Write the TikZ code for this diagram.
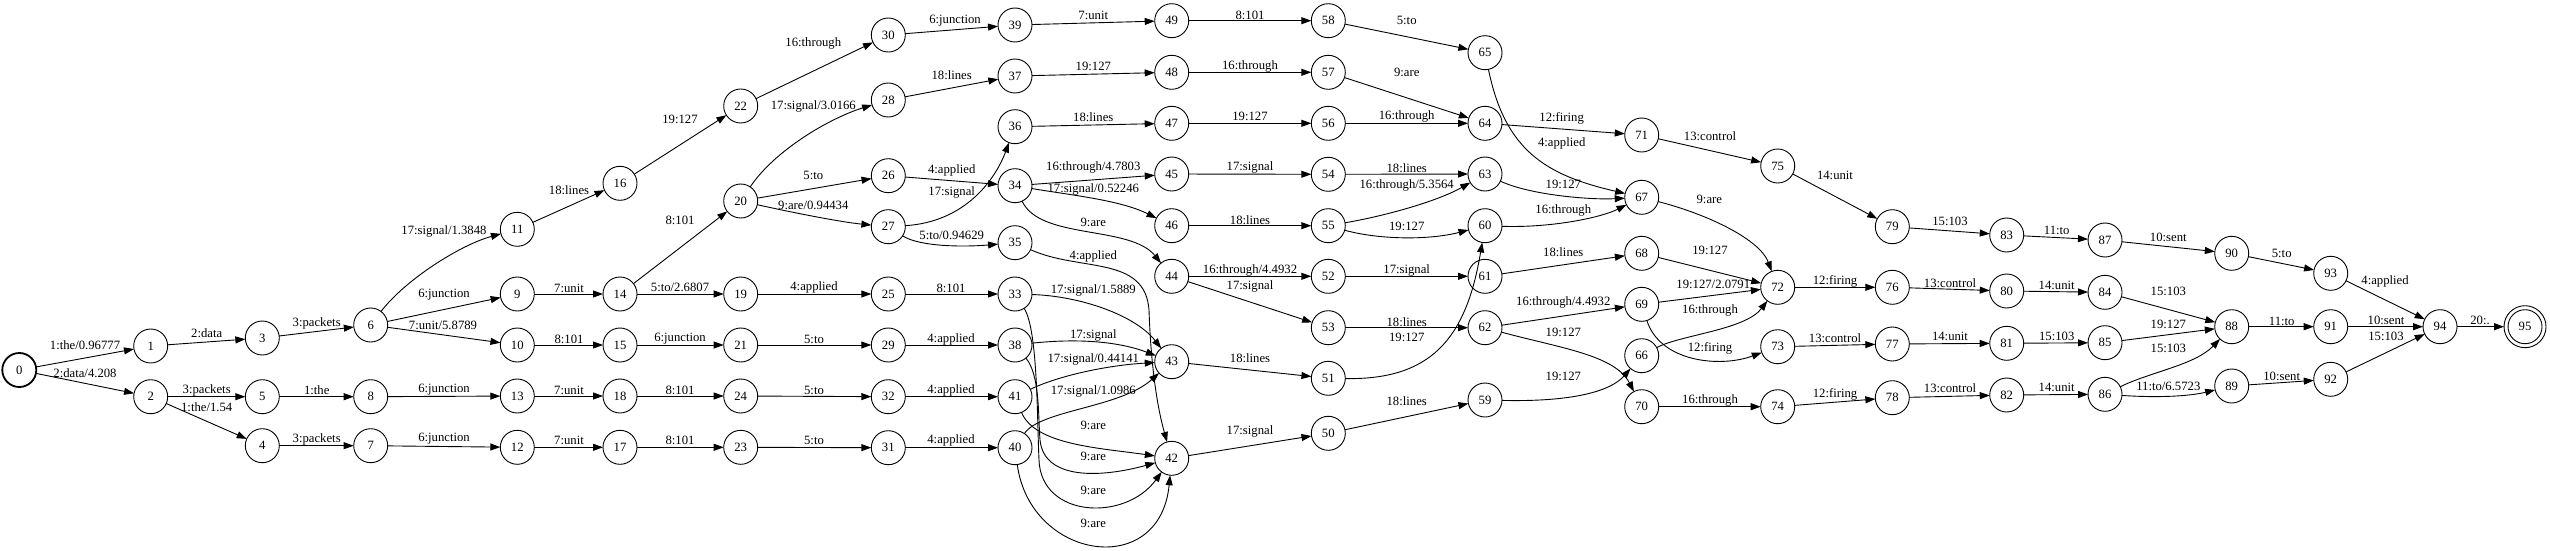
\documentclass[tikz,border=0pt]{standalone}
\usepackage{fontspec}
\setmainfont{Liberation Serif}
\usetikzlibrary{arrows.meta}

\begin{document}
\begin{tikzpicture}[x=1pt,y=1pt,yscale=-1,
  state/.style={circle,draw,line width=0.9pt,minimum size=34pt,inner sep=0pt,outer sep=0pt,font=\fontsize{12.7}{14}\selectfont},
  initstate/.style={state,line width=1.8pt},
  finalstate/.style={state,minimum size=42pt},
  trans/.style={draw,line width=0.9pt,-{Triangle[length=10pt,width=7pt]}},
  lbl/.style={inner sep=0pt,font=\fontsize{12.7}{14}\selectfont}]
\useasboundingbox (0,0) rectangle (2550,551);

% States
\node[initstate] (n0) at (19.3,370) {0};
\node[state] (n1) at (150.7,346) {1};
\node[state] (n2) at (150.7,396.7) {2};
\node[state] (n3) at (262.3,338) {3};
\node[state] (n4) at (262.3,445.7) {4};
\node[state] (n5) at (262.3,396.7) {5};
\node[state] (n6) at (370.7,325) {6};
\node[state] (n7) at (370.7,445.7) {7};
\node[state] (n8) at (370.7,396.7) {8};
\node[state] (n9) at (517.3,294) {9};
\node[state] (n10) at (517.3,345) {10};
\node[state] (n11) at (517.3,229.3) {11};
\node[state] (n12) at (517.3,447.3) {12};
\node[state] (n13) at (517.3,396) {13};
\node[state] (n14) at (620,294) {14};
\node[state] (n15) at (620,345) {15};
\node[state] (n16) at (620,183.3) {16};
\node[state] (n17) at (620,447.3) {17};
\node[state] (n18) at (620,396) {18};
\node[state] (n19) at (740.7,294) {19};
\node[state] (n20) at (740.7,201) {20};
\node[state] (n21) at (740.7,345) {21};
\node[state] (n22) at (740.7,106) {22};
\node[state] (n23) at (740.7,447.3) {23};
\node[state] (n24) at (740.7,396) {24};
\node[state] (n25) at (888.3,294) {25};
\node[state] (n26) at (888.3,175.7) {26};
\node[state] (n27) at (888.3,226.7) {27};
\node[state] (n28) at (888.3,100) {28};
\node[state] (n29) at (888.3,345) {29};
\node[state] (n30) at (888.3,35) {30};
\node[state] (n31) at (888.3,447.7) {31};
\node[state] (n32) at (888.3,396.7) {32};
\node[state] (n33) at (1015,294) {33};
\node[state] (n34) at (1015,185.7) {34};
\node[state] (n35) at (1015,242.7) {35};
\node[state] (n36) at (1015,126.7) {36};
\node[state] (n37) at (1015,76) {37};
\node[state] (n38) at (1015,345) {38};
\node[state] (n39) at (1015,25) {39};
\node[state] (n40) at (1015,447.7) {40};
\node[state] (n41) at (1015,396.7) {41};
\node[state] (n42) at (1171.7,458.3) {42};
\node[state] (n43) at (1171.7,361.7) {43};
\node[state] (n44) at (1171.7,276.3) {44};
\node[state] (n45) at (1171.7,174) {45};
\node[state] (n46) at (1171.7,225.7) {46};
\node[state] (n47) at (1171.7,123.3) {47};
\node[state] (n48) at (1171.7,72.3) {48};
\node[state] (n49) at (1171.7,20.7) {49};
\node[state] (n50) at (1328.3,433.3) {50};
\node[state] (n51) at (1328.3,378.3) {51};
\node[state] (n52) at (1328.3,276.3) {52};
\node[state] (n53) at (1328.3,327.7) {53};
\node[state] (n54) at (1328.3,174.3) {54};
\node[state] (n55) at (1328.3,225.7) {55};
\node[state] (n56) at (1328.3,123.3) {56};
\node[state] (n57) at (1328.3,72.3) {57};
\node[state] (n58) at (1328.3,20.7) {58};
\node[state] (n59) at (1485,400) {59};
\node[state] (n60) at (1485,225.7) {60};
\node[state] (n61) at (1485,276.3) {61};
\node[state] (n62) at (1485,327.7) {62};
\node[state] (n63) at (1485,174) {63};
\node[state] (n64) at (1485,123.3) {64};
\node[state] (n65) at (1485,52.7) {65};
\node[state] (n66) at (1641.7,355.7) {66};
\node[state] (n67) at (1641.7,197.3) {67};
\node[state] (n68) at (1641.7,253.3) {68};
\node[state] (n69) at (1641.7,304.3) {69};
\node[state] (n70) at (1641.7,406.7) {70};
\node[state] (n71) at (1641.7,135) {71};
\node[state] (n72) at (1777.7,287.3) {72};
\node[state] (n73) at (1777.7,346.7) {73};
\node[state] (n74) at (1777.7,406.7) {74};
\node[state] (n75) at (1777.7,166) {75};
\node[state] (n76) at (1892.3,287.3) {76};
\node[state] (n77) at (1892.3,344) {77};
\node[state] (n78) at (1892.3,397.7) {78};
\node[state] (n79) at (1892.3,226.7) {79};
\node[state] (n80) at (2006.7,291) {80};
\node[state] (n81) at (2006.7,343.3) {81};
\node[state] (n82) at (2006.7,395) {82};
\node[state] (n83) at (2006.7,235) {83};
\node[state] (n84) at (2105,292.3) {84};
\node[state] (n85) at (2105,342.7) {85};
\node[state] (n86) at (2105,394.3) {86};
\node[state] (n87) at (2105,240) {87};
\node[state] (n88) at (2231.7,326.7) {88};
\node[state] (n89) at (2231.7,386) {89};
\node[state] (n90) at (2231.7,253.3) {90};
\node[state] (n91) at (2330.7,326.7) {91};
\node[state] (n92) at (2330.7,379.3) {92};
\node[state] (n93) at (2330.7,273.3) {93};
\node[state] (n94) at (2440,326.7) {94};
\node[finalstate] (n95) at (2525,326.7) {95};
\draw[line width=0.9pt] (n95) circle[radius=17];

% Transitions
\draw[trans] (n0) -- (n1) node[lbl] at (85,345) {1:the/0.96777};
\draw[trans] (n0) -- (n2) node[lbl] at (85,373.3) {2:data/4.208};
\draw[trans] (n1) -- (n3) node[lbl] at (206.7,333.3) {2:data};
\draw[trans] (n2) -- (n5) node[lbl] at (206.7,390) {3:packets};
\draw[trans] (n2) -- (n4) node[lbl] at (206.7,406.7) {1:the/1.54};
\draw[trans] (n3) -- (n6) node[lbl] at (316.7,323.3) {3:packets};
\draw[trans] (n5) -- (n8) node[lbl] at (316.7,390) {1:the};
\draw[trans] (n4) -- (n7) node[lbl] at (316.7,439) {3:packets};
\draw[trans] (n6) .. controls (405,280) and (460,245) .. (n11) node[lbl] at (444,231) {17:signal/1.3848};
\draw[trans] (n6) -- (n9) node[lbl] at (444,295) {6:junction};
\draw[trans] (n6) -- (n10) node[lbl] at (443,325) {7:unit/5.8789};
\draw[trans] (n8) -- (n13) node[lbl] at (444,390) {6:junction};
\draw[trans] (n7) -- (n12) node[lbl] at (444,439) {6:junction};
\draw[trans] (n11) -- (n16) node[lbl] at (569,190) {18:lines};
\draw[trans] (n9) -- (n14) node[lbl] at (569,288.3) {7:unit};
\draw[trans] (n10) -- (n15) node[lbl] at (569,339) {8:101};
\draw[trans] (n13) -- (n18) node[lbl] at (569,390) {7:unit};
\draw[trans] (n12) -- (n17) node[lbl] at (569,440.7) {7:unit};
\draw[trans] (n16) -- (n22) node[lbl] at (680,119.3) {19:127};
\draw[trans] (n14) -- (n20) node[lbl] at (680,220) {8:101};
\draw[trans] (n14) -- (n19) node[lbl] at (680,287.3) {5:to/2.6807};
\draw[trans] (n15) -- (n21) node[lbl] at (680,339) {6:junction};
\draw[trans] (n18) -- (n24) node[lbl] at (680,390) {8:101};
\draw[trans] (n17) -- (n23) node[lbl] at (680,440.7) {8:101};
\draw[trans] (n22) -- (n30) node[lbl] at (813.3,43.3) {16:through};
\draw[trans] (n20) .. controls (775,150) and (830,118) .. (n28) node[lbl] at (813.3,106) {17:signal/3.0166};
\draw[trans] (n20) -- (n26) node[lbl] at (813.3,175) {5:to};
\draw[trans] (n20) .. controls (790,212) and (840,222) .. (n27) node[lbl] at (813.3,205) {9:are/0.94434};
\draw[trans] (n19) -- (n25) node[lbl] at (814,287.3) {4:applied};
\draw[trans] (n21) -- (n29) node[lbl] at (814,339) {5:to};
\draw[trans] (n24) -- (n32) node[lbl] at (814,390) {5:to};
\draw[trans] (n23) -- (n31) node[lbl] at (814,440.7) {5:to};
\draw[trans] (n30) -- (n39) node[lbl] at (955,20.7) {6:junction};
\draw[trans] (n28) -- (n37) node[lbl] at (951.7,75) {18:lines};
\draw[trans] (n26) -- (n34) node[lbl] at (951.7,170.7) {4:applied};
\draw[trans] (n27) .. controls (965,222) and (995,180) .. (n36) node[lbl] at (951.7,192.7) {17:signal};
\draw[trans] (n27) .. controls (920,247) and (965,247) .. (n35) node[lbl] at (951.7,235.7) {5:to/0.94629};
\draw[trans] (n25) -- (n33) node[lbl] at (951,288.3) {8:101};
\draw[trans] (n29) -- (n38) node[lbl] at (951,339) {4:applied};
\draw[trans] (n32) -- (n41) node[lbl] at (951,390) {4:applied};
\draw[trans] (n31) -- (n40) node[lbl] at (951,440.7) {4:applied};
\draw[trans] (n39) -- (n49) node[lbl] at (1093.3,15) {7:unit};
\draw[trans] (n37) -- (n48) node[lbl] at (1093.3,66) {19:127};
\draw[trans] (n36) -- (n47) node[lbl] at (1093.3,116.7) {18:lines};
\draw[trans] (n34) -- (n45) node[lbl] at (1093.3,167.3) {16:through/4.7803};
\draw[trans] (n34) .. controls (1070,195) and (1120,200) .. (n46) node[lbl] at (1093.3,189) {17:signal/0.52246};
\draw[trans] (n34) .. controls (1040,240) and (1130,225) .. (n44) node[lbl] at (1093.3,222.3) {9:are};
\draw[trans] (n35) .. controls (1080,272) and (1145,255) .. (1149,310) .. controls (1151,370) and (1158,410) .. (n42) node[lbl] at (1093.3,256.7) {4:applied};
\draw[trans] (n33) .. controls (1080,296) and (1135,315) .. (n43) node[lbl] at (1093.3,290) {17:signal/1.5889};
\draw[trans] (n38) .. controls (1080,338) and (1120,342) .. (n43) node[lbl] at (1093.3,335) {17:signal};
\draw[trans] (n41) .. controls (1060,375) and (1110,365) .. (n43) node[lbl] at (1093.3,359.3) {17:signal/0.44141};
\draw[trans] (n40) .. controls (1040,410) and (1120,408) .. (n43) node[lbl] at (1093.3,391.7) {17:signal/1.0986};
\draw[trans] (n41) .. controls (1035,445) and (1100,448) .. (n42) node[lbl] at (1093.3,425.7) {9:are};
\draw[trans] (n38) .. controls (1040,375) and (1038,415) .. (1040,440) .. controls (1044,480) and (1100,478) .. (n42) node[lbl] at (1093.3,456) {9:are};
\draw[trans] (n33) .. controls (1038,330) and (1037,420) .. (1039,460) .. controls (1041,518) and (1125,522) .. (n42) node[lbl] at (1093.3,490) {9:are};
\draw[trans] (n40) .. controls (1030,560) and (1160,580) .. (n42) node[lbl] at (1093.3,523.3) {9:are};
\draw[trans] (n49) -- (n58) node[lbl] at (1250,15) {8:101};
\draw[trans] (n48) -- (n57) node[lbl] at (1250,66) {16:through};
\draw[trans] (n47) -- (n56) node[lbl] at (1250,116.7) {19:127};
\draw[trans] (n45) -- (n54) node[lbl] at (1250,167.7) {17:signal};
\draw[trans] (n46) -- (n55) node[lbl] at (1250,220) {18:lines};
\draw[trans] (n44) -- (n52) node[lbl] at (1250,270.7) {16:through/4.4932};
\draw[trans] (n44) -- (n53) node[lbl] at (1250,286.7) {17:signal};
\draw[trans] (n43) -- (n51) node[lbl] at (1250,358.3) {18:lines};
\draw[trans] (n42) -- (n50) node[lbl] at (1250,431.7) {17:signal};
\draw[trans] (n58) -- (n65) node[lbl] at (1406.7,20.7) {5:to};
\draw[trans] (n57) -- (n64) node[lbl] at (1406.7,72.3) {9:are};
\draw[trans] (n56) -- (n64) node[lbl] at (1406.7,116.7) {16:through};
\draw[trans] (n54) -- (n63) node[lbl] at (1406.7,168.3) {18:lines};
\draw[trans] (n55) .. controls (1390,215) and (1440,200) .. (n63) node[lbl] at (1406.7,185) {16:through/5.3564};
\draw[trans] (n55) .. controls (1380,240) and (1430,240) .. (n60) node[lbl] at (1406.7,226.7) {19:127};
\draw[trans] (n52) -- (n61) node[lbl] at (1406.7,270.7) {17:signal};
\draw[trans] (n53) -- (n62) node[lbl] at (1406.7,321.7) {18:lines};
\draw[trans] (n51) .. controls (1430,380) and (1466,340) .. (n60) node[lbl] at (1406.7,337.7) {19:127};
\draw[trans] (n50) -- (n59) node[lbl] at (1406.7,401) {18:lines};
\draw[trans] (n64) -- (n71) node[lbl] at (1561.7,118.3) {12:firing};
\draw[trans] (n65) .. controls (1505,150) and (1545,175) .. (n67) node[lbl] at (1561.7,143.3) {4:applied};
\draw[trans] (n63) .. controls (1530,195) and (1590,200) .. (n67) node[lbl] at (1563.3,184.3) {19:127};
\draw[trans] (n60) .. controls (1550,228) and (1600,218) .. (n67) node[lbl] at (1563.3,210) {16:through};
\draw[trans] (n61) -- (n68) node[lbl] at (1563.3,251.7) {18:lines};
\draw[trans] (n62) -- (n69) node[lbl] at (1563.3,302.7) {16:through/4.4932};
\draw[trans] (n62) .. controls (1560,348) and (1615,355) .. (n70) node[lbl] at (1563.3,332.3) {19:127};
\draw[trans] (n59) .. controls (1570,402) and (1610,392) .. (n66) node[lbl] at (1563.3,376.7) {19:127};
\draw[trans] (n71) -- (n75) node[lbl] at (1710,136) {13:control};
\draw[trans] (n67) .. controls (1710,215) and (1760,240) .. (n72) node[lbl] at (1709.3,199.3) {9:are};
\draw[trans] (n68) -- (n72) node[lbl] at (1710,250) {19:127};
\draw[trans] (n69) -- (n72) node[lbl] at (1713.3,284) {19:127/2.0791};
\draw[trans] (n66) .. controls (1680,335) and (1745,330) .. (n72) node[lbl] at (1710,310.7) {16:through};
\draw[trans] (n69) .. controls (1660,362) and (1720,368) .. (n73) node[lbl] at (1710,348.3) {12:firing};
\draw[trans] (n70) -- (n74) node[lbl] at (1710,400) {16:through};
\draw[trans] (n75) -- (n79) node[lbl] at (1835,175.7) {14:unit};
\draw[trans] (n72) -- (n76) node[lbl] at (1835,281.7) {12:firing};
\draw[trans] (n73) -- (n77) node[lbl] at (1835,337.7) {13:control};
\draw[trans] (n74) -- (n78) node[lbl] at (1835,394) {12:firing};
\draw[trans] (n79) -- (n83) node[lbl] at (1950,221) {15:103};
\draw[trans] (n76) -- (n80) node[lbl] at (1950,282.7) {13:control};
\draw[trans] (n77) -- (n81) node[lbl] at (1950,336.7) {14:unit};
\draw[trans] (n78) -- (n82) node[lbl] at (1950,388.3) {13:control};
\draw[trans] (n83) -- (n87) node[lbl] at (2056.7,230) {11:to};
\draw[trans] (n80) -- (n84) node[lbl] at (2056.7,285) {14:unit};
\draw[trans] (n81) -- (n85) node[lbl] at (2056.7,336.7) {15:103};
\draw[trans] (n82) -- (n86) node[lbl] at (2056.7,387.3) {14:unit};
\draw[trans] (n87) -- (n90) node[lbl] at (2168.3,237.3) {10:sent};
\draw[trans] (n84) -- (n88) node[lbl] at (2168.3,291.7) {15:103};
\draw[trans] (n85) -- (n88) node[lbl] at (2168.3,324) {19:127};
\draw[trans] (n86) .. controls (2150,372) and (2195,365) .. (n88) node[lbl] at (2168.3,348.3) {15:103};
\draw[trans] (n86) .. controls (2160,398) and (2190,396) .. (n89) node[lbl] at (2168.3,386.7) {11:to/6.5723};
\draw[trans] (n90) -- (n93) node[lbl] at (2281.7,253.3) {5:to};
\draw[trans] (n88) -- (n91) node[lbl] at (2281.7,321.7) {11:to};
\draw[trans] (n89) -- (n92) node[lbl] at (2281.7,376) {10:sent};
\draw[trans] (n93) -- (n94) node[lbl] at (2385,281.7) {4:applied};
\draw[trans] (n91) -- (n94) node[lbl] at (2386,320.7) {10:sent};
\draw[trans] (n92) -- (n94) node[lbl] at (2386,336.7) {15:103};
\draw[trans] (n94) -- (n95) node[lbl] at (2480,320.7) {20:.};

\end{tikzpicture}
\end{document}
